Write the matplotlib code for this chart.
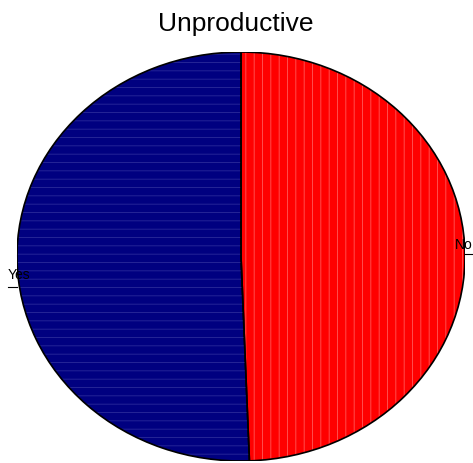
import matplotlib
matplotlib.use("Agg")
import matplotlib.pyplot as plt
from matplotlib.patches import Wedge
import numpy as np

title = "Unproductive"
categories = ["No", "Yes"]
values = [49.4, 50.6]
colors = ["#ff0000", "#000080"]
hatch_colors = ["#ff5a5a", "#2a2a9a"]

plt.rcParams['font.family'] = ['Liberation Sans', 'DejaVu Sans']
plt.rcParams['hatch.linewidth'] = 0.6

fig = plt.figure(figsize=(4.73, 4.64), dpi=100)
ax = fig.add_axes([0.0359, 0.0043, 0.9472, 0.8814])
wedges, _ = ax.pie(values, colors=colors, startangle=90, counterclock=False,
                   radius=1.0, wedgeprops=dict(edgecolor='none', linewidth=0))
hatches = ['||', '--']
for w, h, hc in zip(wedges, hatches, hatch_colors):
    hp = Wedge(w.center, w.r, w.theta1, w.theta2, fill=False, hatch=h,
               edgecolor=hc, linewidth=0)
    ax.add_patch(hp)
    op = Wedge(w.center, w.r, w.theta1, w.theta2, fill=False,
               edgecolor='black', linewidth=1.2)
    ax.add_patch(op)
ax.set_aspect('auto')
ax.set_xlim(-1.0, 1.0)
ax.set_ylim(-1.0, 1.0)
ax.axis('off')

label_pos = {"No": ((1.0, 1.04), 0.012, (0.955, 0.06)),
             "Yes": ((-1.04, -1.0), -0.149, (-1.04, -0.085))}
for cat in categories:
    (x0, x1), ly, (tx, ty) = label_pos[cat]
    ax.plot([x0, x1], [ly, ly], color='black', lw=0.8, clip_on=False)
    ax.text(tx, ty, cat, fontsize=10, ha='left', va='center', clip_on=False)

fig.text(0.499, 0.948, title, fontsize=19, ha='center', va='center')
fig.savefig("out.png", dpi=100)
